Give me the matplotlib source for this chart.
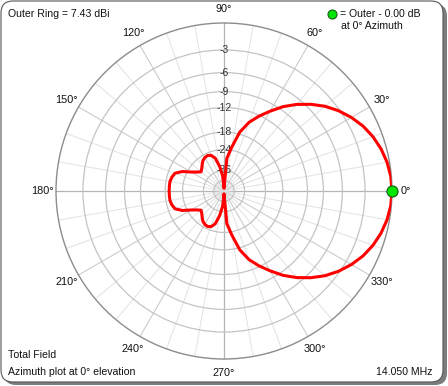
import numpy as np
import matplotlib
matplotlib.use('Agg')
import matplotlib.pyplot as plt
from matplotlib.patches import FancyBboxPatch
from matplotlib.lines import Line2D
from matplotlib.transforms import IdentityTransform

plt.rcParams['font.family'] = ['Liberation Sans', 'DejaVu Sans']

# ---------------- data ----------------
azimuth_deg = [0, 5, 10, 15, 20, 25, 30, 35, 40, 45, 50, 55, 60, 65, 70, 75, 80, 85,
               90, 95, 100, 105, 110, 115, 120, 125, 130, 135, 140, 145, 150, 155, 160,
               165, 170, 175, 180, 185, 190, 195, 200, 205, 210, 215, 220, 225, 230,
               235, 240, 245, 250, 255, 260, 265, 270, 275, 280, 285, 290, 295, 300,
               305, 310, 315, 320, 325, 330, 335, 340, 345, 350, 355, 360]
gain_db = [0.0, -0.06, -0.25, -0.56, -0.99, -1.55, -2.28, -3.14, -4.16, -5.4, -6.8, -8.4,
           -10.3, -12.2, -14.3, -17.4, -22.8, -28.0,
           -70.0, -41.4, -32.7, -27.4, -25.5, -25.0, -25.3, -26.0, -27.4, -28.7, -29.6,
           -27.9, -25.5, -22.2, -20.1, -19.5, -19.2, -19.2, -19.2,
           -19.2, -19.2, -19.5, -20.1, -22.2, -25.5, -27.9, -29.6, -28.7, -27.4, -26.0,
           -25.3, -25.0, -25.5, -27.4, -32.7, -41.4, -70.0,
           -28.0, -22.8, -17.4, -14.3, -12.2, -10.3, -8.4, -6.8, -5.4, -4.16, -3.14,
           -2.28, -1.55, -0.99, -0.56, -0.25, -0.06, 0.0]

ring_db = [-3, -6, -9, -12, -18, -24, -36]
ring_labels = ['-3', '-6', '-9', '-12', '-18', '-24', '-36']
inner_ring_db = [-48]
angle_ticks_deg = [0, 30, 60, 90, 120, 150, 180, 210, 240, 270, 300, 330]
angle_tick_labels = ['0°', '30°', '60°', '90°', '120°', '150°', '180°', '210°',
                     '240°', '270°', '300°', '330°']
marker_az_deg = [0]
marker_db = [0.0]

title_text = 'Outer Ring = 7.43 dBi'
legend_line1 = '= Outer - 0.00 dB'
legend_line2 = 'at 0° Azimuth'
foot_left1 = 'Total Field'
foot_left2 = 'Azimuth plot at 0° elevation'
foot_right = '14.050 MHz'

# ---------------- figure ----------------
W, H = 448, 386
fig = plt.figure(figsize=(W / 100, H / 100), dpi=100)
fig.patch.set_facecolor('white')

shadow = FancyBboxPatch((4, 1), 443, 381, boxstyle='round,pad=0,rounding_size=12',
                        transform=IdentityTransform(), fc='#7d7d7d', ec='none', zorder=-3)
frame = FancyBboxPatch((1, 4), 442, 381, boxstyle='round,pad=0,rounding_size=12',
                       transform=IdentityTransform(), fc='white', ec='#555555', lw=0.8,
                       zorder=-2)
fig.add_artist(shadow)
fig.add_artist(frame)

R = 168
cx, cy = 224, 191
ax = fig.add_axes([(cx - R) / W, (H - cy - R) / H, 2 * R / W, 2 * R / H],
                  projection='polar')
ax.set_zorder(1)
ax.set_facecolor('none')


def fwd(db):
    db = np.asarray(db, dtype=float)
    return np.power(0.89, -db / 2.0)


def inv(r):
    r = np.clip(np.asarray(r, dtype=float), 1e-12, None)
    return -2.0 * np.log(r) / np.log(0.89)


ax.set_rscale('function', functions=(fwd, inv))
ax.set_rlim(-140, 0)

# radial rings
ax.set_yticks(ring_db + inner_ring_db)
ax.set_yticklabels([])
ax.yaxis.grid(True, color='#c4c4c4', lw=0.9)

# angular lines every 10 deg
minor_deg = list(range(0, 360, 10))
ax.set_xticks(np.deg2rad(minor_deg))
lbl_map = dict(zip(angle_ticks_deg, angle_tick_labels))
ax.set_xticklabels([lbl_map.get(d, '') for d in minor_deg], fontsize=7.8, color='#111111')
ax.xaxis.grid(True)
for d, gl in zip(minor_deg, ax.xaxis.get_gridlines()):
    if d % 90 == 0:
        gl.set_color('#b4b4b4'); gl.set_linewidth(0.9)
    elif d % 30 == 0:
        gl.set_color('#cccccc'); gl.set_linewidth(0.8)
    else:
        gl.set_color('#e2e2e2'); gl.set_linewidth(0.7)
ax.tick_params(axis='x', pad=3, length=0)
ax.tick_params(axis='y', length=0)
ax.spines['polar'].set_color('#8c8c8c')
ax.spines['polar'].set_linewidth(1.0)

# ring labels
for db, lab in zip(ring_db, ring_labels):
    ax.text(np.pi / 2, db, lab, ha='center', va='center', fontsize=7.5,
            color='#333333', zorder=3)

# pattern
ax.plot(np.deg2rad(azimuth_deg), gain_db, color='#ff0000', lw=2.2, zorder=4,
        solid_joinstyle='round')
ax.plot(np.deg2rad(marker_az_deg), marker_db, 'o', ms=8, mfc='#00e600', mec='#1a5a1a',
        mew=0.8, zorder=5, clip_on=False)

# texts
def ft(x, y, s, **kw):
    fig.text(x / W, 1 - y / H, s, fontsize=7.6, color='#111111', va='center', **kw)

ft(8, 14, title_text, ha='left')
ft(340, 14, legend_line1, ha='left')
ft(341, 26, legend_line2, ha='left')
ft(8, 355, foot_left1, ha='left')
ft(8, 372, foot_left2, ha='left')
ft(432, 372, foot_right, ha='right')
fig.add_artist(Line2D([331.5 / W], [1 - 14 / H], transform=fig.transFigure, marker='o',
                      ms=6.5, mfc='#00e600', mec='#1a5a1a', mew=0.8, ls='none'))

fig.savefig('out.png', dpi=100)
